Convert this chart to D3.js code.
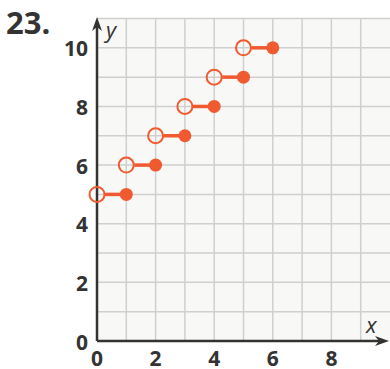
<html>
<head>
    <script src="https://d3js.org/d3.v7.min.js"></script>
    <style>
        body { margin: 0; background: #fff; }
        text { font-family: "Open Sans", "Noto Sans", sans-serif; }
    </style>
</head>
<body>
    <svg id="chart"></svg>
    <script>
        var Width = 390, Height = 369;

        // data
        var openX  = [0, 1, 2, 3, 4, 5];
        var closedX = [1, 2, 3, 4, 5, 6];
        var stepY  = [5, 6, 7, 8, 9, 10];
        var xTicks = [0, 2, 4, 6, 8];
        var yTicks = [0, 2, 4, 6, 8, 10];

        var steps = stepY.map(function(y, i){
            return {x0: openX[i], x1: closedX[i], y: y};
        });

        var x = d3.scaleLinear().domain([0, 10]).range([97, 390]);
        var y = d3.scaleLinear().domain([0, 11]).range([341, 18.5]);

        var svg = d3.select("#chart")
            .attr("width", Width)
            .attr("height", Height);

        // grid background
        svg.append("rect")
            .attr("x", x(0)).attr("y", y(11))
            .attr("width", x(10) - x(0))
            .attr("height", y(0) - y(11))
            .attr("fill", "#f8f8f6");

        svg.append("g").selectAll("line")
            .data(d3.range(1, 10))
            .enter().append("line")
                .attr("x1", function(d){ return x(d); })
                .attr("x2", function(d){ return x(d); })
                .attr("y1", y(0)).attr("y2", y(11))
                .attr("stroke", "#cfcfcf").attr("stroke-width", 1.5);

        svg.append("g").selectAll("line")
            .data(d3.range(1, 12))
            .enter().append("line")
                .attr("y1", function(d){ return y(d); })
                .attr("y2", function(d){ return y(d); })
                .attr("x1", x(0)).attr("x2", x(10))
                .attr("stroke", "#cfcfcf").attr("stroke-width", 1.5);

        // axes
        var axisColor = "#333";
        svg.append("line")
            .attr("x1", x(0)).attr("x2", 383)
            .attr("y1", y(0)).attr("y2", y(0))
            .attr("stroke", axisColor).attr("stroke-width", 2.5);
        svg.append("path")
            .attr("d", "M389," + y(0) + " L375," + (y(0) - 5) + " L379," + y(0) + " L375," + (y(0) + 5) + "Z")
            .attr("fill", axisColor);

        svg.append("line")
            .attr("x1", x(0)).attr("x2", x(0))
            .attr("y1", y(0)).attr("y2", 24)
            .attr("stroke", axisColor).attr("stroke-width", 2.5);
        svg.append("path")
            .attr("d", "M" + x(0) + ",17 L" + (x(0) - 5) + ",31 L" + x(0) + ",27 L" + (x(0) + 5) + ",31Z")
            .attr("fill", axisColor);

        // tick labels
        svg.append("g").selectAll("text")
            .data(xTicks)
            .enter().append("text")
                .attr("x", function(d){ return x(d); })
                .attr("y", 366)
                .attr("text-anchor", "middle")
                .attr("font-size", 21).attr("font-weight", "bold")
                .attr("fill", axisColor)
                .text(function(d){ return d; });

        svg.append("g").selectAll("text")
            .data(yTicks)
            .enter().append("text")
                .attr("x", 88)
                .attr("y", function(d){ return y(d) + 8.5; })
                .attr("text-anchor", "end")
                .attr("font-size", 21).attr("font-weight", "bold")
                .attr("fill", axisColor)
                .text(function(d){ return d; });

        svg.append("text")
            .attr("x", 106).attr("y", 38)
            .attr("font-size", 22).attr("font-style", "italic")
            .attr("fill", axisColor).text("y");
        svg.append("text")
            .attr("x", 366).attr("y", 333)
            .attr("font-size", 22).attr("font-style", "italic")
            .attr("fill", axisColor).text("x");

        svg.append("text")
            .attr("x", 6).attr("y", 34)
            .attr("font-size", 31).attr("font-weight", "bold")
            .attr("fill", axisColor).text("23.");

        // steps
        var orange = "#f05a30";
        var g = svg.append("g");
        g.selectAll("line.seg")
            .data(steps)
            .enter().append("line")
                .attr("class", "seg")
                .attr("x1", function(d){ return x(d.x0) + 8; })
                .attr("x2", function(d){ return x(d.x1); })
                .attr("y1", function(d){ return y(d.y); })
                .attr("y2", function(d){ return y(d.y); })
                .attr("stroke", orange).attr("stroke-width", 3.5);

        g.selectAll("circle.open")
            .data(steps)
            .enter().append("circle")
                .attr("class", "open")
                .attr("cx", function(d){ return x(d.x0); })
                .attr("cy", function(d){ return y(d.y); })
                .attr("r", 7.5)
                .attr("fill", "none")
                .attr("stroke", orange).attr("stroke-width", 2);

        g.selectAll("circle.closed")
            .data(steps)
            .enter().append("circle")
                .attr("class", "closed")
                .attr("cx", function(d){ return x(d.x1); })
                .attr("cy", function(d){ return y(d.y); })
                .attr("r", 6.5)
                .attr("fill", orange);
    </script>
</body>
</html>
